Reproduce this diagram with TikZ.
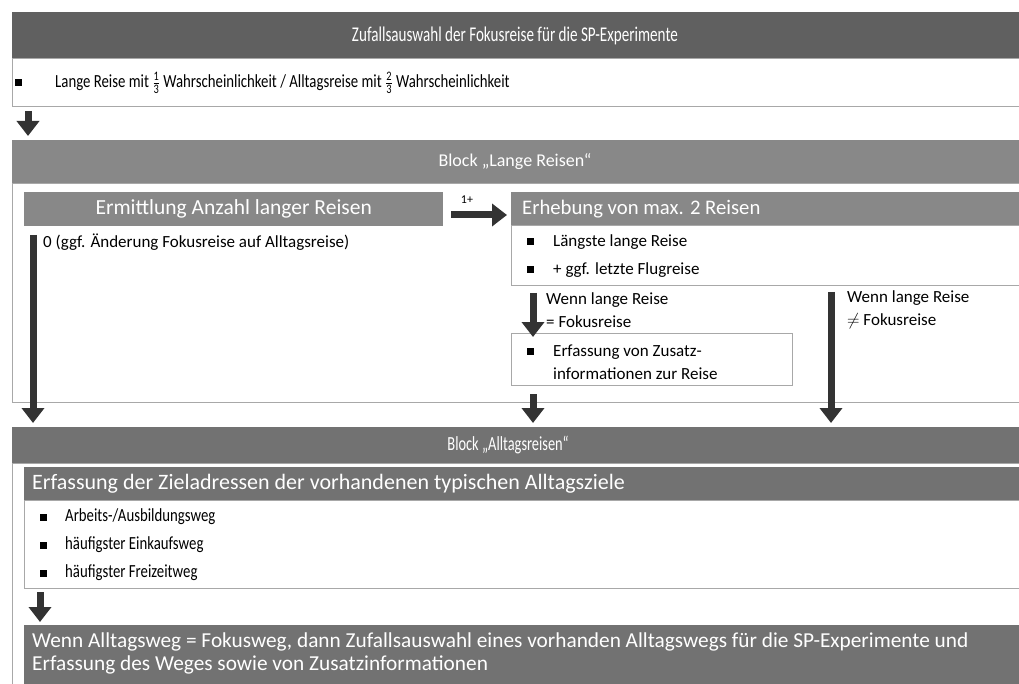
\documentclass[tikz,border=0pt]{standalone}
\usepackage{amsmath}
\usepackage{fontspec}
\setmainfont{Carlito}
\newfontfamily\narrowfont[FakeStretch=0.8]{Carlito}
\newfontfamily\narrowerfont[FakeStretch=0.72]{Carlito}
\usetikzlibrary{positioning,arrows.meta}

\definecolor{hdrdark}{HTML}{606060}
\definecolor{hdrmid}{HTML}{727272}
\definecolor{hdrlight}{HTML}{888888}
\definecolor{boxline}{HTML}{A8A8A8}
\definecolor{arrowgrey}{HTML}{333333}

\newcommand{\bul}{\rule{7pt}{7pt}}
\tikzset{
  panel/.style={rectangle,anchor=north west,inner sep=0pt,draw=none},
  bodybox/.style={rectangle,anchor=north west,inner sep=0pt,draw=boxline,line width=1pt,fill=white},
  hdrtext/.style={text=white,inner sep=0pt},
  bigarrow/.style={draw=arrowgrey,line width=7pt,-{Triangle[width=22pt,length=15pt]}},
  itemtext/.style={anchor=west,inner sep=0pt,font=\fontsize{17}{23}\selectfont},
  listtext/.style={anchor=west,inner sep=0pt,font=\narrowfont\fontsize{18.5}{22}\selectfont}
}

\begin{document}
\begin{tikzpicture}[x=1pt,y=-1pt]
\useasboundingbox (0,0) rectangle (1019,684);
\clip (0,0) rectangle (1019,684);

% Zufallsauswahl
\node[panel,fill=hdrdark,minimum width=1020pt,minimum height=46pt] (zuf) at (12,12) {};
\node[hdrtext,font=\narrowerfont\fontsize{21}{25}\selectfont] (zuftitle) at (515,36) {Zufallsauswahl der Fokusreise für die SP-Experimente};
\node[bodybox,minimum width=1020pt,minimum height=48pt] (zufbody) at (12,58) {};
\node[anchor=west,inner sep=0pt] (zufbul) at (15,83) {\bul};
\node[listtext] (zuftext) at (55,83)
  {Lange Reise mit $\frac{\text{1}}{\text{3}}$ Wahrscheinlichkeit / Alltagsreise mit $\frac{\text{2}}{\text{3}}$ Wahrscheinlichkeit};

% Block Lange Reisen
\node[panel,fill=hdrlight,minimum width=1020pt,minimum height=43pt] (lang) at (12,140) {};
\node[hdrtext,font=\fontsize{18}{22}\selectfont] (langtitle) at (515,162) {Block „Lange Reisen“};
\node[bodybox,minimum width=1020pt,minimum height=219pt] (langbody) at (12,183) {};
\draw[bigarrow] ([xshift=16pt,yshift=-4pt]zufbody.south west) -- ([xshift=16pt,yshift=4pt]lang.north west);

\node[panel,fill=hdrlight,minimum width=419pt,minimum height=34pt] (ermitt) at (24,192) {};
\node[hdrtext,font=\fontsize{21.5}{25}\selectfont] (ermitttitle) at (ermitt.center) {Ermittlung Anzahl langer Reisen};
\node[panel,fill=hdrlight,minimum width=510pt,minimum height=33pt] (erheb) at (511,192) {};
\node[hdrtext,anchor=west,font=\fontsize{20.7}{24}\selectfont] (erhebtitle) at (522,209) {Erhebung von max. 2 Reisen};
\node[bodybox,minimum width=510pt,minimum height=60pt] (erhebbody) at (511,225) {};
\node[anchor=west,inner sep=0pt] (erhebbul1) at (527,242) {\bul};
\node[itemtext] (erhebtext1) at (553,242) {Längste lange Reise};
\node[anchor=west,inner sep=0pt] (erhebbul2) at (527,270) {\bul};
\node[itemtext] (erhebtext2) at (553,270) {+ ggf. letzte Flugreise};

\coordinate (einsstart) at (451,215);
\draw[bigarrow] (einsstart) -- ([xshift=-4pt]erheb.west |- einsstart);
\node[inner sep=0pt,font=\fontsize{12}{14}\selectfont] (einslabel) at (467,200) {1+};

\node[itemtext] (nulltext) at (43,242) {0 (ggf. Änderung Fokusreise auf Alltagsreise)};

\node[bodybox,minimum width=281pt,minimum height=52pt] (zusatz) at (511,333) {};
\node[anchor=west,inner sep=0pt] (zusatzbul) at (527,351) {\bul};
\node[itemtext,align=left] (zusatztext) at (553,362) {Erfassung von Zusatz-\\informationen zur Reise};

\draw[bigarrow] ([xshift=22pt,yshift=-7pt]erhebbody.south west) -- ([xshift=22pt,yshift=-4pt]zusatz.north west);
\node[itemtext,align=left] (gleichlabel) at (546,310) {Wenn lange Reise\\= Fokusreise};

% Block Alltagsreisen
\node[panel,fill=hdrmid,minimum width=1020pt,minimum height=36pt] (allt) at (12,427) {};
\node[hdrtext,font=\narrowerfont\fontsize{20}{24}\selectfont] (alltitle) at (508,445) {Block „Alltagsreisen“};
\node[bodybox,minimum width=1020pt,minimum height=260pt] (alltbody) at (12,463) {};

\coordinate (nullstart) at (33,235);
\draw[bigarrow] (nullstart) -- ([yshift=4pt]nullstart |- allt.north);
\draw[bigarrow] ([xshift=22pt,yshift=-8pt]zusatz.south west) -- ([xshift=22pt,yshift=4pt]zusatz.south west |- allt.north);
\coordinate (ungleichstart) at (831,292);
\draw[bigarrow] (ungleichstart) -- ([yshift=4pt]ungleichstart |- allt.north);
\node[itemtext,align=left] (ungleichlabel) at (847,310) {Wenn lange Reise\\$\neq$ Fokusreise};

\node[panel,fill=hdrmid,minimum width=1000pt,minimum height=33pt] (ziel) at (24,467) {};
\node[hdrtext,anchor=west,font=\fontsize{22}{26}\selectfont] (zieltitle) at (32,484) {Erfassung der Zieladressen der vorhandenen typischen Alltagsziele};
\node[bodybox,minimum width=1000pt,minimum height=88pt] (zielbody) at (24,500) {};
\foreach \ypos/\txt [count=\i] in {517/{Arbeits-/Ausbildungsweg},545/{häufigster Einkaufsweg},573/{häufigster Freizeitweg}}{
  \node[anchor=west,inner sep=0pt] (zielbul\i) at (40,\ypos) {\bul};
  \node[listtext] (zieltext\i) at (65,\ypos) {\txt};
}

\node[panel,fill=hdrmid,minimum width=1000pt,minimum height=70pt] (fokus) at (24,625) {};
\draw[bigarrow] ([xshift=16pt,yshift=-3pt]zielbody.south west) -- ([xshift=16pt,yshift=3pt]fokus.north west);
\node[hdrtext,anchor=west,align=left,font=\fontsize{21.3}{23}\selectfont] (fokustext) at (32,653)
  {Wenn Alltagsweg = Fokusweg, dann Zufallsauswahl eines vorhanden Alltagswegs für die SP-Experimente und\\Erfassung des Weges sowie von Zusatzinformationen};
\end{tikzpicture}
\end{document}
